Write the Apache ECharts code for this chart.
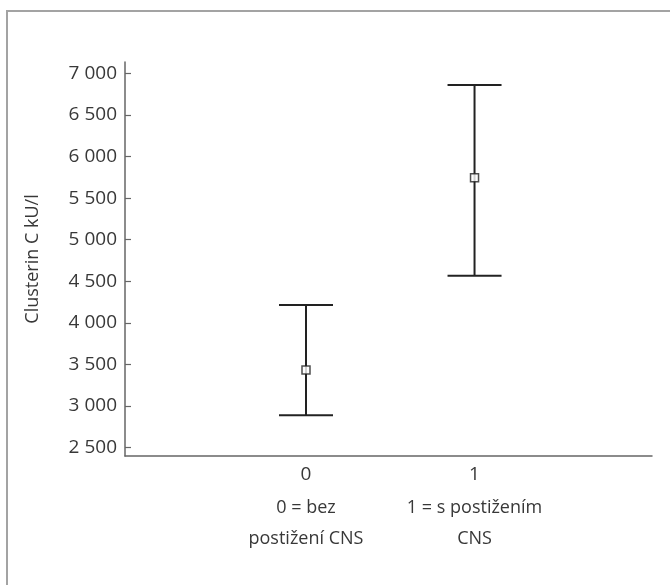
<!DOCTYPE html>
<html>
<head>
<meta charset="utf-8">
<script src="https://cdn.jsdelivr.net/npm/echarts@6/dist/echarts.min.js"></script>
<style>html,body{margin:0;padding:0;background:#fff}#c{width:670px;height:585px}</style>
</head>
<body>
<div id="c"></div>
<script>
var groups = [0, 1];
var groupLabels = ['0 = bez\npostižení CNS', '1 = s postižením\nCNS'];
var means = [3434, 5746];
var lowers = [2890, 4568];
var uppers = [4215, 6860];
var yTicks = [2500, 3000, 3500, 4000, 4500, 5000, 5500, 6000, 6500, 7000];

var fontFam = '"Open Sans", "Noto Sans", sans-serif';
var fs = 19;
var fsx = 18;
var fw = 400;
var tc = '#383838';
var chart = echarts.init(document.getElementById('c'));

function fmtThousands(v) {
  var s = String(Math.round(v));
  return s.length > 3 ? s.slice(0, s.length - 3) + ' ' + s.slice(-3) : s;
}

var barData = groups.map(function (g, i) { return [g, lowers[i], uppers[i]]; });
var meanData = groups.map(function (g, i) { return [g, means[i]]; });

chart.setOption({
  animation: false,
  backgroundColor: '#fff',
  graphic: [{
    type: 'rect',
    shape: { x: 7, y: 11, width: 700, height: 620 },
    style: { fill: 'none', stroke: '#a3a3a3', lineWidth: 2 },
    silent: true
  }],
  grid: { left: 125, top: 62, right: 18, bottom: 129 },
  xAxis: {
    type: 'value',
    min: -1.074,
    max: 2.053,
    splitLine: { show: false },
    axisLine: { show: true, onZero: false, lineStyle: { color: '#666', width: 1.5 } },
    axisTick: { show: false },
    axisLabel: {
      customValues: groups,
      margin: 2,
      formatter: function (v) {
        var i = groups.indexOf(Math.round(v));
        if (i < 0) return '';
        var lines = groupLabels[i].split('\n');
        return '{a|' + groups[i] + '}\n' + lines.map(function (l) { return '{b|' + l + '}'; }).join('\n');
      },
      rich: {
        a: { fontFamily: fontFam, fontSize: fs, fontWeight: fw, color: tc, lineHeight: 34, align: 'center' },
        b: { fontFamily: fontFam, fontSize: fsx, fontWeight: fw, color: tc, lineHeight: 31, align: 'center' }
      }
    }
  },
  yAxis: {
    type: 'value',
    min: 2400,
    max: 7136,
    name: 'Clusterin C kU/l',
    nameLocation: 'middle',
    nameGap: 83,
    nameTextStyle: { fontFamily: fontFam, fontSize: fsx, fontWeight: fw, color: tc },
    splitLine: { show: false },
    axisLine: { show: true, onZero: false, lineStyle: { color: '#666', width: 1.5 } },
    axisTick: { show: true, inside: true, length: 6, customValues: yTicks, lineStyle: { color: '#666', width: 1.2 } },
    axisLabel: {
      customValues: yTicks,
      margin: 8,
      fontFamily: fontFam, fontSize: fs, fontWeight: fw, color: tc,
      formatter: fmtThousands
    }
  },
  series: [{
    type: 'custom',
    data: barData,
    renderItem: function (params, api) {
      var x = api.value(0);
      var lo = api.coord([x, api.value(1)]);
      var hi = api.coord([x, api.value(2)]);
      var hw = 27;
      var st = { stroke: '#222', lineWidth: 2 };
      return {
        type: 'group',
        children: [
          { type: 'line', shape: { x1: lo[0], y1: lo[1], x2: hi[0], y2: hi[1] }, style: st },
          { type: 'line', shape: { x1: lo[0] - hw, y1: lo[1], x2: lo[0] + hw, y2: lo[1] }, style: st },
          { type: 'line', shape: { x1: hi[0] - hw, y1: hi[1], x2: hi[0] + hw, y2: hi[1] }, style: st }
        ]
      };
    },
    z: 2
  }, {
    type: 'scatter',
    data: meanData,
    symbol: 'rect',
    symbolSize: 8,
    itemStyle: { color: '#fff', borderColor: '#222', borderWidth: 1.5 },
    z: 3
  }]
});
</script>
</body>
</html>
